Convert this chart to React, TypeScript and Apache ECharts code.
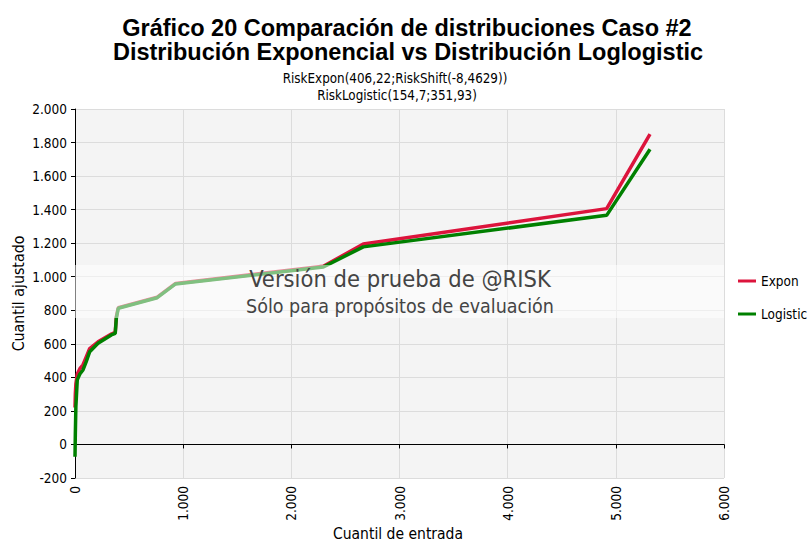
import React, { useEffect, useRef } from "react";
import * as echarts from "echarts";

const titleLines = ["Gráfico 20 Comparación de distribuciones Caso #2", "Distribución Exponencial vs Distribución Loglogistic"];
const subtitleLines = ["RiskExpon(406,22;RiskShift(-8,4629))", "RiskLogistic(154,7;351,93)"];
const axisNames = { x: "Cuantil de entrada", y: "Cuantil ajustado" };
const seriesNames = ["Expon", "Logistic"];
const inputQuantiles = [0, 3, 8, 21, 45, 74, 104, 136, 213, 336, 372, 382, 400, 760, 930, 2296, 2665, 4915, 5316];
const exponFitted = [220, 300, 360, 420, 452, 475, 522, 572, 612, 658, 668, 760, 815, 878, 960, 1062, 1195, 1406, 1850];
const logisticFitted = [-73, 60, 225, 385, 420, 444, 494, 553, 603, 653, 662, 752, 812, 875, 957, 1058, 1178, 1366, 1760];
const yTicks = { min: -200, max: 2000, interval: 200 };
const xTicks = { min: 0, max: 6000, interval: 1000 };
const watermark = ["Versión de prueba de @RISK", "Sólo para propósitos de evaluación"];

const fmt = (v: number) => {
  const s = Math.abs(v).toString().replace(/\B(?=(\d{3})+(?!\d))/g, ".");
  return (v < 0 ? "-" : "") + s;
};

const FONT = "'DejaVu Sans Condensed', 'DejaVu Sans', sans-serif";
const TITLE_FONT = "bold 23.5px 'Liberation Sans', Arial, sans-serif";

export default function App() {
  const ref = useRef<HTMLDivElement>(null);
  useEffect(() => {
    if (!ref.current) return;
    const chart = echarts.init(ref.current, null, { renderer: "svg" });
    const left = 75, top = 109, right = 85, bottom = 66;
    chart.setOption({
      animation: false,
      backgroundColor: "#ffffff",
      legend: {
        orient: "vertical",
        left: 733,
        top: 269,
        itemWidth: 18,
        itemHeight: 14,
        itemGap: 19,
        icon: "path://M0,6 L18,6 L18,9 L0,9 Z",
        textStyle: { fontFamily: FONT, fontSize: 13.5, color: "#000" },
        data: seriesNames,
      },
      grid: {
        left, top, right, bottom,
        show: true,
        backgroundColor: "#f4f4f4",
        borderWidth: 0,
        outerBoundsMode: "none",
        containLabel: false,
      },
      xAxis: {
        type: "value",
        min: xTicks.min,
        max: xTicks.max,
        interval: xTicks.interval,
        axisLine: { show: true, lineStyle: { color: "#000", width: 1 } },
        axisTick: { show: true, length: 4, lineStyle: { color: "#000" } },
        axisLabel: { rotate: 90, margin: 8, fontFamily: FONT, fontSize: 13.5, color: "#000", formatter: (v: number) => fmt(v) },
        splitLine: { show: true, lineStyle: { color: "#dcdcdc", width: 1 } },
      },
      yAxis: {
        type: "value",
        min: yTicks.min,
        max: yTicks.max,
        interval: yTicks.interval,
        name: axisNames.y,
        nameLocation: "middle",
        nameGap: 49,
        nameMoveOverlap: false,
        nameTextStyle: { fontFamily: FONT, fontSize: 15.8, color: "#000" },
        axisLine: { show: true, lineStyle: { color: "#000", width: 1 } },
        axisTick: { show: true, length: 4, lineStyle: { color: "#000" } },
        axisLabel: { margin: 8, fontFamily: FONT, fontSize: 13.5, color: "#000", formatter: (v: number) => fmt(v) },
        splitLine: { show: true, lineStyle: { color: "#dcdcdc", width: 1 } },
      },
      series: [
        {
          name: seriesNames[0],
          type: "line",
          data: inputQuantiles.map((x, i) => [x, exponFitted[i]]),
          showSymbol: false,
          lineStyle: { color: "#dc143c", width: 3.5 },
          itemStyle: { color: "#dc143c" },
          z: 2,
        },
        {
          name: seriesNames[1],
          type: "line",
          data: inputQuantiles.map((x, i) => [x, logisticFitted[i]]),
          showSymbol: false,
          lineStyle: { color: "#008000", width: 3.5 },
          itemStyle: { color: "#008000" },
          z: 3,
        },
      ],
      graphic: [
        {
          type: "text",
          x: 407,
          y: 28,
          style: { text: titleLines[0], font: TITLE_FONT, fill: "#000", align: "center", verticalAlign: "middle" },
          silent: true,
        },
        {
          type: "text",
          x: 408,
          y: 52,
          style: { text: titleLines[1], font: TITLE_FONT, fill: "#000", align: "center", verticalAlign: "middle" },
          silent: true,
        },
        {
          type: "text",
          x: 395,
          y: 78,
          style: { text: subtitleLines[0], font: "13.3px " + FONT, fill: "#000", align: "center", verticalAlign: "middle" },
          silent: true,
        },
        {
          type: "text",
          x: 397,
          y: 95,
          style: { text: subtitleLines[1], font: "13.3px " + FONT, fill: "#000", align: "center", verticalAlign: "middle" },
          silent: true,
        },
        {
          type: "text",
          x: 398,
          y: 534,
          style: { text: axisNames.x, font: "15.5px " + FONT, fill: "#000", align: "center", verticalAlign: "middle" },
          silent: true,
        },
        {
          type: "rect",
          z: 100,
          shape: { x: left, y: 265, width: 809 - left - right, height: 53 },
          style: { fill: "rgba(255,255,255,0.5)" },
          silent: true,
        },
        {
          type: "text",
          z: 101,
          x: 400,
          y: 279,
          style: { text: watermark[0], font: "23.5px " + FONT, fill: "#444", align: "center", verticalAlign: "middle" },
          silent: true,
        },
        {
          type: "text",
          z: 101,
          x: 400,
          y: 306,
          style: { text: watermark[1], font: "19.5px " + FONT, fill: "#444", align: "center", verticalAlign: "middle" },
          silent: true,
        },
      ],
    });
    return () => chart.dispose();
  }, []);
  return <div ref={ref} style={{ width: 809, height: 544, position: "absolute", left: 0, top: 0 }} />;
}
